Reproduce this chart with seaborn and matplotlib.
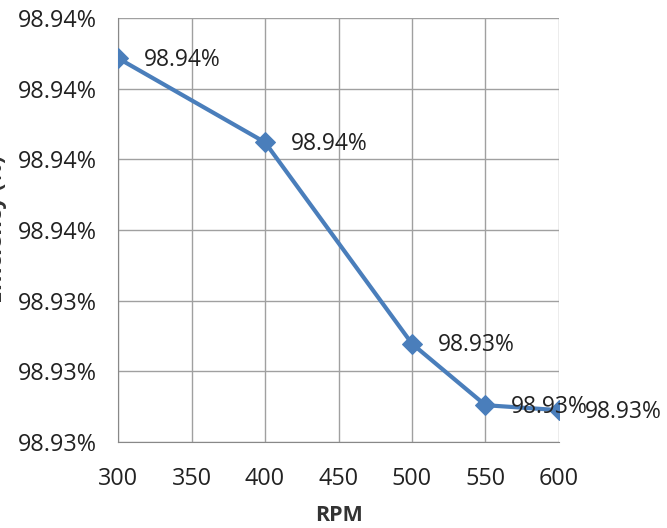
import matplotlib
matplotlib.use("Agg")
import matplotlib.pyplot as plt
import matplotlib.ticker as mticker
import seaborn as sns
import pandas as pd

rpm = [300, 400, 500, 550, 600]
efficiency = [98.93743, 98.93624, 98.93339, 98.93252, 98.93245]
point_labels = ["98.94%", "98.94%", "98.93%", "98.93%", "98.93%"]
y_ticks = [98.932, 98.933, 98.934, 98.935, 98.936, 98.937, 98.938]
x_ticks = [300, 350, 400, 450, 500, 550, 600]

df = pd.DataFrame({"RPM": rpm, "Efficiency": efficiency})

sns.set_style("white")
plt.rcParams['font.family'] = ['Open Sans', 'DejaVu Sans']

fig = plt.figure(figsize=(6.67, 5.28), dpi=100)
ax = fig.add_axes([0.177, 0.163, 0.661, 0.803])

blue = "#4A7EBB"
sns.lineplot(data=df, x="RPM", y="Efficiency", ax=ax, color=blue, linewidth=3,
             marker="D", markersize=10.5, markeredgecolor=blue, zorder=3)

for xv, yv, lab in zip(rpm, efficiency, point_labels):
    ax.annotate(lab, (xv, yv), xytext=(18.5, -1), textcoords="offset points",
                fontsize=16.5, color="#222222", va="center", ha="left",
                annotation_clip=False, zorder=4)

ax.set_xlim(300, 600)
ax.set_ylim(98.932, 98.938)
ax.set_xticks(x_ticks)
ax.set_yticks(y_ticks)
ax.yaxis.set_major_formatter(mticker.FuncFormatter(lambda v, p: f"{v:.2f}%"))
ax.grid(True, color="#A0A0A0", linewidth=1)
for s in ax.spines.values():
    s.set_visible(False)
ax.spines["left"].set_visible(True)
ax.spines["bottom"].set_visible(True)
ax.spines["left"].set_color("#888888")
ax.spines["bottom"].set_color("#888888")
ax.tick_params(axis="both", direction="out", length=5, width=1, color="#888888",
               labelsize=16.8, labelcolor="#222222")
ax.tick_params(axis="y", pad=10)
ax.tick_params(axis="x", pad=13)
ax.set_ylabel("")
ax.set_xlabel("RPM", fontsize=15.5, fontweight="bold", color="#333333", labelpad=10)
fig.text(7 / 667, 0.565, "Efficiency (%)", rotation=90, ha="right", va="center",
         fontsize=16, fontweight="bold", color="#333333")

fig.savefig("out.png", dpi=100)
